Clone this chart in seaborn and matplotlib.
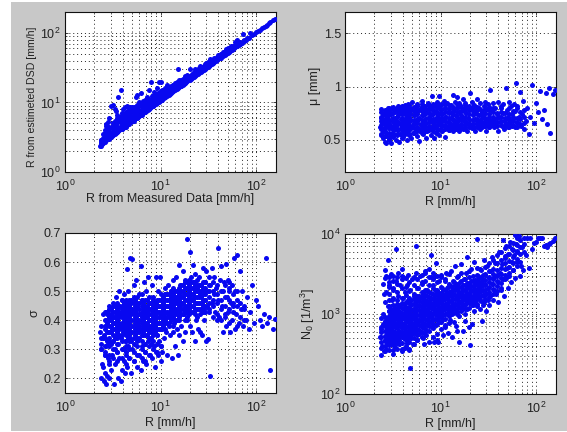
import matplotlib
matplotlib.use("Agg")
import matplotlib.pyplot as plt
from matplotlib.patches import Rectangle
from matplotlib.ticker import FixedLocator, FixedFormatter, NullFormatter
import seaborn as sns

# Rain rate shared by all panels [mm/h]
R = [
 2.3,2.35,2.4,2.4,2.45,2.5,2.5,2.55,2.6,2.6,
 2.6,2.65,2.7,2.7,2.75,2.8,2.8,2.85,2.9,2.9,
 2.5,2.55,2.6,2.65,2.7,2.75,2.8,2.85,2.9,3.0,
 3.0,3.05,3.1,3.1,3.15,3.2,3.2,3.25,3.3,3.3,
 3.35,3.4,3.4,3.45,3.5,3.5,3.55,3.6,3.6,3.65,
 3.7,3.7,3.75,3.8,3.8,3.85,3.9,3.9,3.95,4.0,
 4.0,4.05,4.1,4.15,4.2,4.2,4.25,4.3,4.35,4.4,
 4.4,4.45,4.5,4.55,4.6,4.65,4.7,4.75,4.8,4.8,
 4.85,4.9,4.95,5.0,5.0,5.1,5.2,5.3,5.4,5.5,
 5.5,5.6,5.7,5.7,5.8,5.9,6.0,6.0,6.1,6.2,
 6.2,6.3,6.4,6.5,6.5,6.6,6.7,6.8,6.9,7.0,
 7.0,7.1,7.2,7.3,7.4,7.5,7.6,7.7,7.8,8.0,
 8.0,8.1,8.2,8.3,8.4,8.5,8.6,8.7,8.8,8.9,
 9.0,9.0,9.1,9.2,9.3,9.4,9.5,9.6,9.7,9.8,
 9.9,10,10,10.1,10.2,10.3,10.4,10.5,10.7,11,
 11,11.2,11.4,11.5,11.7,11.9,12,12.2,12.4,12.5,
 12.7,12.9,13,13.2,13.4,13.5,13.7,13.9,14,14.2,
 14.4,14.5,14.7,14.9,15,15.2,15.4,15.5,15.7,16,
 16,16.3,16.6,17,17,17.4,17.7,18,18,18.4,
 18.7,19,19,19.5,20,20,20.5,21,21,21.5,
 22,22,22.5,23,23,23.5,24,24,24.5,25,
 25,25.5,26,26,26.5,27,27,27.5,28,28,
 28.5,29,29,30,30,30.5,31,31,32,32,
 33,33,34,34,35,36,36,37,38,39,
 40,40,41,42,43,44,45,45,46,47,
 48,48,49,50,51,52,53,54,55,56,
 57,58,59,60,61,62,63,65,67,69,
 70,72,74,77,80,83,86,90,95,100,
 105,110,115,120,125,130,135,140,150,158,
]

R_est = [
 2.35,2.4,2.5,2.9,2.55,2.6,3.1,2.7,2.8,3.3,
 4.0,2.9,2.85,3.5,3.0,3.0,4.3,3.2,3.1,3.8,
 3.5,3.0,3.6,4.6,4.9,3.4,5.2,3.6,6.0,3.2,
 9.0,3.4,3.3,4.4,9.2,3.5,5.0,3.8,8.0,3.5,
 5.5,3.6,4.6,7.5,3.8,6.5,4.2,12,3.9,5.5,
 4.0,6.2,4.5,15,4.1,5.6,4.2,7.0,4.9,4.3,
 8.0,5.2,4.4,6.2,4.5,8.5,5.0,4.6,7.0,4.8,
 6.0,8.8,4.9,5.6,7.5,5.0,5.4,8.6,5.2,6.6,
 7.6,5.3,6.2,5.4,8.6,5.5,7.0,5.7,8.0,5.9,
 12,6.0,6.8,13,6.2,8.8,6.4,10,7.5,6.6,
 13.5,9,6.9,7.0,10.5,8.0,7.2,11,7.4,7.5,
 9.5,7.6,12,7.8,8.7,15,8.1,10.5,8.4,20,
 8.6,12.5,8.8,10,9.0,14,9.2,11.5,9.4,9.6,
 12,9.7,10.5,16,10,13.5,10.2,20,11.5,10.6,
 14,10.8,12.5,20,11,15,11.2,13,11.5,11.9,
 15,12.1,14,12.4,18,12.8,16,13.1,14.8,13.4,
 17,13.8,15.5,14.2,18,14.5,16.5,14.9,19,15.2,
 17.5,15.5,19,15.9,30,16.3,18.5,16.6,21,17.1,
 20,17.4,19.5,18.1,22,18.5,21,19.2,24,19.6,
 23,20.2,25,20.8,21.3,30,22,22.3,26,23,
 23.4,27,24,24.4,30,25,25.5,29,26,26.5,
 31,27,27.5,33,28.1,28.6,32,29,29.6,34,
 30,30.7,36,31.7,37,32.2,32.8,38,33.8,37,
 34.8,42,35.8,40,37,37.9,44,39,40,43,
 42,48,43,44,50,46,47,53,48,49,
 50,58,51,52,60,54,55,65,57,58,
 59,60,75,62,70,64,78,67,69,71,
 72,95,76,79,85,85,100,92,97,102,
 107,112,117,122,127,132,137,142,152,160,
]

mu = [
 .62,.71,.55,.79,.66,.52,.74,.60,.48,.69,
 .76,.64,.47,.57,.72,.80,.68,.50,.61,.75,
 .58,.67,.73,.63,.54,.78,.70,.51,.65,.56,
 .74,.47,.62,.80,.57,.69,.53,.76,.65,.60,
 .71,.50,.78,.63,.55,.67,.82,.59,.73,.48,
 .66,.77,.56,.70,.61,.81,.52,.74,.64,.58,
 .79,.53,.68,.60,.75,.56,.83,.65,.71,.50,
 .62,.77,.58,.72,.84,.55,.67,.80,.60,.74,
 .69,.52,.78,.63,.86,.57,.73,.66,.81,.60,
 .75,.54,.68,.84,.61,.78,.49,.71,.58,.65,
 .80,.63,.87,.56,.73,.68,.82,.60,.76,.52,
 .66,.79,.58,.71,.85,.62,.75,.68,.81,.55,
 .73,.60,.91,.67,.78,.52,.64,.83,.70,.57,
 .76,.62,.68,.86,.59,.73,.81,.55,.91,.66,
 .70,.78,.60,.84,.64,.74,.58,.69,.87,.63,
 .80,.53,.72,.61,.85,.67,.76,.59,.82,.65,
 .71,.83,.62,.75,.92,.58,.69,.79,.64,.86,
 .73,.60,.90,.67,.81,.63,.76,.85,.58,.70,
 .83,.64,.72,.88,.60,.78,.68,.85,.62,.75,
 .66,.81,.58,.71,.94,.64,.79,.61,.86,.69,
 .75,.62,.83,.58,.70,.78,.66,.88,.63,.73,
 .80,.60,.68,.85,.65,.76,.62,.72,.82,.67,
 .74,.63,.86,.70,.58,.79,.66,.84,.62,.72,
 .97,.68,.77,.64,.85,.70,.62,.80,.66,.74,
 .86,.58,.72,.67,.80,.63,.75,.84,.60,.69,
 .99,.65,.78,.62,.72,.86,.67,.82,.63,.74,
 .70,.84,.62,.77,1.03,.66,.80,.72,.95,.63,
 .74,.87,.60,.68,.80,.56,.72,1.02,.66,.85,
 .76,.96,.70,.78,.94,.65,.99,.57,.93,.97,
]

sigma = [
 .36,.32,.30,.20,.25,.42,.34,.19,.28,.38,
 .22,.31,.40,.18,.43,.27,.36,.20,.33,.41,
 .24,.35,.29,.43,.38,.21,.32,.45,.26,.40,
 .44,.23,.37,.28,.46,.33,.41,.18,.30,.39,
 .25,.35,.43,.48,.29,.40,.20,.37,.32,.45,
 .50,.27,.42,.34,.19,.38,.47,.23,.44,.30,
 .36,.41,.26,.49,.33,.46,.22,.39,.29,.575,
 .43,.24,.37,.50,.31,.45,.27,.40,.615,.34,
 .47,.22,.38,.61,.30,.43,.26,.52,.36,.41,
 .54,.24,.45,.33,.39,.28,.49,.37,.42,.23,
 .585,.31,.47,.26,.40,.35,.53,.44,.29,.38,
 .50,.25,.42,.33,.55,.37,.46,.28,.40,.32,
 .44,.52,.27,.36,.48,.31,.41,.24,.38,.55,
 .46,.29,.35,.43,.50,.28,.39,.33,.45,.37,
 .55,.26,.42,.31,.47,.37,.29,.44,.34,.51,
 .40,.49,.36,.45,.28,.52,.42,.38,.47,.35,
 .44,.50,.27,.41,.36,.54,.46,.39,.48,.31,
 .43,.55,.37,.47,.28,.50,.40,.59,.35,.45,
 .52,.38,.46,.33,.57,.42,.49,.36,.54,.44,
 .40,.51,.68,.45,.635,.38,.55,.47,.36,.59,
 .43,.53,.48,.33,.56,.40,.46,.51,.37,.44,
 .55,.36,.49,.42,.52,.46,.35,.58,.44,.50,
 .40,.53,.47,.33,.57,.45,.335,.50,.43,.55,
 .21,.52,.46,.58,.41,.49,.55,.43,.51,.40,
 .47,.65,.41,.54,.585,.45,.50,.36,.53,.42,
 .595,.38,.48,.54,.43,.51,.36,.46,.52,.40,
 .45,.615,.37,.50,.42,.625,.47,.39,.57,.44,
 .50,.38,.45,.40,.48,.37,.43,.52,.39,.47,
 .45,.40,.38,.42,.615,.39,.41,.23,.37,.405,
]

N0 = [
 520,650,310,900,400,2400,750,1800,3500,480,
 1400,370,620,3000,830,4800,450,1100,2200,560,
 1000,340,2800,700,1900,470,1250,530,2500,880,
 600,3200,420,1500,760,320,2100,950,540,1200,
 390,2600,700,6500,1050,480,1700,850,3300,600,
 1300,420,2300,780,550,1000,340,3600,660,1600,
 900,2900,500,1200,700,380,1900,620,1050,2300,
 440,820,1500,3100,570,1100,360,690,2000,210,
 950,500,1350,2700,740,420,1700,600,1100,3300,
 7000,650,1250,480,2100,850,1550,560,3000,1000,
 730,2500,1150,500,1800,900,420,1400,3400,640,
 1050,540,2000,780,1350,3700,450,1600,950,2900,
 5500,680,1250,2300,850,450,1600,1050,3000,720,
 1400,4300,560,1900,950,450,1150,2600,800,1650,
 1000,3100,650,1450,2100,830,1200,540,1750,2700,
 1300,720,3300,1000,1600,2200,580,1150,1900,850,
 1450,3400,1000,520,1800,1200,2500,800,1350,4000,
 2100,700,1550,1050,3000,1250,450,1800,950,2500,
 1400,4200,1150,2000,620,1650,2700,1000,1300,3300,
 1800,1150,5100,2300,410,1500,3600,1300,750,2000,
 1600,4500,1100,2600,1400,1900,8700,1250,3000,1700,
 2200,1150,3600,1500,2000,820,2700,1300,4800,1700,
 1400,2400,3200,1800,1100,4000,2100,1500,2800,1300,
 1700,3400,2400,5200,1500,2900,2000,4300,1800,3100,
 2500,1400,6000,3300,2000,4200,2700,8500,1700,5000,
 2800,7000,3800,2100,5600,3000,8000,2500,4500,6500,
 3500,5500,9800,2800,7500,4500,6200,9500,3000,4000,
 6800,3500,9000,5500,8800,3800,9000,6500,7800,8000,
 8900,9000,8800,7000,7200,6800,7500,7800,8200,8800,
]

# Dense body of each cloud: rain-rate columns and the values read in each column
R_dense = [2.4,2.6,2.9,3.2,3.5,3.9,4.3,4.7,5.2,5.7,6.3,6.9,7.6,8.4,9.2,10.1,11.1,12.2,13.5,
           14.8,16.3,18,19.8,21.7,23.9,26.3,29,31.8,35,38.5,42.4,46.6,51.3,56.4,62,68,75]

R_est_dense = [
 [2.5,2.7,2.9],[2.7,3.0,3.3,3.6],[3.0,3.3,3.7,4.1,4.5],[3.35,3.7,4.1,4.5,5.0],
 [3.7,4.1,4.5,5.0,5.5,6.0],[4.1,4.5,5.0,5.5,6.0,6.6],[4.5,5.0,5.5,6.0,6.6,7.2],
 [4.95,5.4,6.0,6.6,7.2,7.9,8.6],[5.5,6.0,6.6,7.2,7.9,8.6],[6.0,6.6,7.2,7.9,8.6,9.3],
 [6.65,7.2,7.9,8.6,9.4],[7.3,7.9,8.6,9.4,10.3],[8.0,8.7,9.5,10.4,11.3],[8.9,9.6,10.4,11.3,12.3],
 [9.8,10.5,11.4,12.4,13.4],[10.8,11.6,12.5,13.5,14.6],[11.9,12.7,13.6,14.7,16],[13,13.9,15,16.2],
 [14.4,15.4,16.5,17.8],[15.8,16.8,18,19.4],[17.4,18.5,19.8,21],[19.1,20.4,21.8,23.2],
 [21,22.4,23.8],[23,24.5,26],[25.3,26.8,28.5],[27.8,29.5,31],[30.5,32.3,34.2],[33.5,35.4,37.5],
 [36.7,38.8,41],[40.3,42.5,45],[44.2,46.8,49.5],[48.5,51,54],[53.3,56,59.5],[58.5,61.5,65],
 [64.2,67.5,71],[70,74],[77,80],
]

mu_dense = [
 [.56,.60,.64,.68,.72,.76],[.54,.58,.62,.66,.70,.74,.78],[.53,.57,.61,.65,.69,.73,.77,.80],
 [.55,.59,.63,.67,.71,.75,.79,.81],[.56,.60,.64,.68,.72,.76,.80],[.55,.59,.63,.67,.71,.75,.79,.82],
 [.57,.61,.65,.69,.73,.77,.81],[.56,.60,.64,.68,.72,.76,.80,.83],[.57,.61,.65,.69,.73,.77,.81],
 [.58,.62,.66,.70,.74,.78,.82],[.57,.61,.65,.69,.73,.77,.81,.84],[.58,.62,.66,.70,.74,.78,.82],
 [.59,.63,.67,.71,.75,.79,.83],[.58,.62,.66,.70,.74,.78,.82,.84],[.60,.64,.68,.72,.76,.80,.84],
 [.59,.63,.67,.71,.75,.79,.83],[.60,.64,.68,.72,.76,.80,.84],[.59,.63,.67,.71,.75,.79,.83],
 [.61,.65,.69,.73,.77,.81],[.60,.64,.68,.72,.76,.80,.84],[.61,.65,.69,.73,.77,.81],
 [.60,.64,.68,.72,.76,.80,.83],[.62,.66,.70,.74,.78,.82],[.61,.65,.69,.73,.77,.81],
 [.62,.66,.70,.74,.78,.81],[.62,.66,.70,.74,.78],[.63,.67,.71,.75,.79],[.62,.66,.70,.74,.78,.81],
 [.64,.68,.72,.76,.80],[.63,.67,.71,.75],[.64,.68,.72,.76,.82],[.63,.67,.71,.75],[.62,.66,.70,.74,.80],
 [.64,.68,.72,.77],[.62,.67,.71,.82],[.65,.70,.76],[.66,.72,.78],
]

sigma_dense = [
 [.30,.34,.38],[.28,.31,.34,.37,.40,.43],[.25,.28,.31,.34,.36,.38,.40,.42,.44],
 [.27,.30,.33,.35,.37,.39,.41,.43,.45],[.26,.29,.32,.34,.36,.38,.40,.42,.44,.46],
 [.27,.30,.33,.35,.37,.39,.41,.43,.45,.47],[.25,.28,.31,.33,.35,.37,.39,.41,.43,.45,.47],
 [.27,.30,.33,.35,.37,.39,.41,.43,.45,.47],[.26,.29,.32,.34,.36,.38,.40,.42,.44,.46,.48],
 [.28,.31,.34,.36,.38,.40,.42,.44,.46,.48],[.27,.30,.33,.35,.37,.39,.41,.43,.45,.47,.49],
 [.26,.29,.32,.35,.37,.39,.41,.43,.45,.47],[.28,.31,.34,.36,.38,.40,.42,.44,.46,.48],
 [.30,.33,.35,.37,.39,.41,.43,.45,.47],[.29,.32,.35,.37,.39,.41,.43,.45,.47],
 [.31,.37,.39,.41,.43,.45,.47,.49],[.37,.39,.41,.43,.45,.47,.49],[.39,.41,.43,.45,.47,.49],
 [.38,.41,.43,.45,.47,.49,.51],[.40,.42,.44,.46,.48,.50],[.42,.44,.46,.48,.50,.52],
 [.40,.43,.45,.47,.49,.51,.53],[.42,.44,.46,.48,.50,.52,.54],[.43,.45,.47,.49,.51,.53],
 [.41,.44,.46,.48,.50,.52,.54],[.44,.46,.48,.50,.52],[.43,.45,.47,.49,.51,.53],
 [.44,.46,.48,.50,.52],[.45,.47,.50,.53],[.42,.46,.49,.52],[.40,.44,.47,.50],[.41,.45,.48,.52],
 [.39,.44,.47,.50,.53],[.43,.46,.49],[.38,.45,.50],[.41,.46],[.40,.44],
]

N0_dense = [
 [380,450,520,600,690],[340,400,460,530,610,700,810,930],
 [350,410,470,540,620,710,820,940,1080,1250,1500,1800,2300,2900],
 [350,410,470,540,620,710,820,940,1080,1300,1600,2000,2600,3000],
 [370,430,500,570,660,760,870,1000,1150,1320,1500,1900,2400,2900],
 [360,440,510,590,680,780,900,1030,1190,1370,1600,2100,2700,3000],
 [400,470,540,620,710,820,940,1080,1240,1430,1750,2200,2800],
 [350,450,520,600,690,790,910,1050,1210,1390,1600,1950,2500],
 [420,500,580,670,770,890,1020,1170,1350,1550,1800,2300,2900],
 [470,550,640,740,850,980,1130,1300,1500,1700,2100,2700],
 [520,600,690,800,920,1060,1220,1400,1620,1900,2400,3100],
 [560,650,750,860,990,1140,1310,1510,1740,2000,2600,3300],
 [610,700,810,930,1070,1230,1420,1630,1880,2300,2900],
 [520,660,760,870,1000,1150,1330,1530,1760,2100,2700,3300],
 [480,740,850,980,1130,1300,1500,1720,1980,2500,3000],
 [800,920,1060,1220,1400,1610,1850,2200,2900],
 [680,870,1000,1150,1320,1520,1750,2000,2600],
 [780,950,1090,1250,1440,1660,1900,2400,3200],
 [1020,1170,1340,1540,1770,2040,2600],
 [620,1000,1150,1320,1520,1750,2010,2350,2900],
 [1080,1240,1430,1640,1890,2170,2600,3300],
 [820,1150,1320,1520,1750,2010,2310,2700],
 [680,1200,1380,1590,1830,2100,2420,2900,3400],
 [1280,1470,1690,1950,2240,2580,3000],
 [1320,1520,1750,2010,2310,2660,3100,3800],
 [1450,1670,1920,2210,2540,2920,3500],
 [1530,1760,2020,2330,2680,3100,3900],
 [1650,1900,2180,2510,2890,3400,4300],
 [1800,2070,2380,2740,3150,3700,4700],
 [1950,2240,2580,2970,3500,4300,5400],
 [2100,2420,2780,3200,3800,4700,6000],
 [2700,3100,3600,4300,5300,6700],
 [3300,3900,4600,5600,7000],
 [3500,4300,5200,6400,7800],
 [4000,4900,5900,7200,8900],
 [4500,5600,6900,8400],
 [6000,7500],
]

# Further columns between those above, for the two widest clouds
R_between = [2.75,3.05,3.35,3.7,4.1,4.5,4.95,5.45,6,6.6,7.25,8,8.8,9.6,10.6,11.6,12.8,14.1,15.5,
             17.1,18.9,20.7,22.8,25,27.6]

sigma_between = [
 [.33,.36,.39,.42],[.32,.36,.38,.40,.42,.44],[.34,.37,.39,.41,.43,.45],[.35,.37,.39,.41,.43,.45],
 [.30,.36,.38,.40,.42,.44,.46],[.34,.36,.38,.40,.42,.44,.46],[.33,.36,.38,.40,.42,.44,.46],
 [.35,.37,.39,.41,.43,.45,.47],[.34,.36,.38,.40,.42,.44,.46],[.36,.38,.40,.42,.44,.46],
 [.35,.37,.39,.41,.43,.45,.47],[.34,.36,.38,.40,.42,.44,.46],[.36,.38,.40,.42,.44,.46],
 [.37,.39,.41,.43,.45,.47],[.38,.40,.42,.44,.46,.48],[.39,.41,.43,.45,.47,.49],
 [.40,.42,.44,.46,.48,.50],[.40,.42,.44,.46,.48,.50],[.41,.43,.45,.47,.49,.51],
 [.42,.44,.46,.48,.50,.52],[.41,.43,.45,.47,.49,.51,.53],[.43,.45,.47,.49,.51,.53],
 [.42,.44,.46,.48,.50,.52],[.44,.46,.48,.50,.52],[.43,.45,.47,.49,.51,.53],
]

N0_between = [
 [430,500,570,660,760,880],[430,500,570,650,750,860,1000,1150],
 [440,510,590,680,780,900,1040,1200],[470,540,620,720,830,950,1100,1260],
 [500,580,660,760,880,1010,1160,1340],[520,600,690,790,910,1050,1200,1400],
 [550,640,730,840,970,1110,1280,1480],[590,680,780,900,1030,1190,1370,1570],
 [640,730,840,970,1110,1280,1470,1700],[680,780,900,1030,1190,1370,1570,1810],
 [730,840,970,1110,1280,1470,1690,1950],[790,910,1040,1200,1380,1590,1830],
 [860,990,1140,1310,1500,1730,1990],[910,1050,1210,1390,1600,1840],
 [980,1130,1300,1490,1720,1980],[1040,1200,1380,1590,1830,2100],
 [1100,1270,1460,1680,1930,2220],[1150,1320,1520,1750,2010,2310],
 [1240,1430,1640,1890,2170],[1300,1500,1720,1980,2280],[1400,1610,1850,2130,2450],
 [1460,1680,1930,2220,2550],[1540,1770,2040,2340,2690],[1620,1860,2140,2460,2830],
 [1750,2010,2310,2660,3060],
]

sns.set_theme(style="white")
plt.rcParams.update({
    "font.family": ["Liberation Sans", "DejaVu Sans"],
    "mathtext.fontset": "custom",
    "mathtext.rm": "Liberation Sans",
    "mathtext.default": "regular",
    "font.size": 9,
    "axes.linewidth": 0.8,
    "text.color": "#222222",
})

W, H = 567, 432
fig = plt.figure(figsize=(W / 100, H / 100), dpi=100, facecolor="white")
fig.patches.append(Rectangle((11 / W, 0.003), 1 - 11 / W, 1 - 2 / H - 0.003,
                             transform=fig.transFigure, facecolor="#c8c8c8", edgecolor="none", zorder=-1))


def panel(box, y, dense, between, xlabel, ylabel, ylim, logy=True, yticks=None, ylabels=None,
          xpad=1, ysize=9, ypos=0.5):
    x0, y0, x1, y1 = box
    ax = fig.add_axes([x0 / W, 1 - y1 / H, (x1 - x0) / W, (y1 - y0) / H], facecolor="white")
    xs = list(R)
    ys = list(y)
    for r, col in list(zip(R_dense, dense)) + list(zip(R_between, between)):
        xs += [r] * len(col)
        ys += col
    sns.scatterplot(x=xs, y=ys, ax=ax, color="#0808f0", marker="o", s=13, linewidth=0, zorder=3)
    ax.set_xscale("log")
    ax.set_xlim(1, 160)
    if logy:
        ax.set_yscale("log")
    ax.set_ylim(*ylim)
    if yticks is not None:
        ax.yaxis.set_major_locator(FixedLocator(yticks))
        ax.yaxis.set_major_formatter(FixedFormatter(ylabels))
    ax.xaxis.set_minor_formatter(NullFormatter())
    ax.yaxis.set_minor_formatter(NullFormatter())
    ax.grid(True, which="both", axis="x", color="#222222", linestyle=(0, (1, 3)), linewidth=0.7, zorder=1)
    ax.grid(True, which="major" if not logy else "both", axis="y", color="#222222",
            linestyle=(0, (1, 3)), linewidth=0.7, zorder=1)
    ax.set_axisbelow(True)
    ax.tick_params(which="major", direction="in", length=2.5, width=0.6, top=True, right=True,
                   left=True, bottom=True, labelsize=9, labelcolor="#222222")
    ax.tick_params(axis="x", which="major", pad=5)
    ax.tick_params(axis="y", which="major", pad=3)
    ax.tick_params(which="minor", direction="in", length=1.2, width=0.5, top=True, right=True,
                   left=True, bottom=True)
    for s in ax.spines.values():
        s.set_color("#111111")
        s.set_visible(True)
    ax.set_xlabel(xlabel, fontsize=9, labelpad=xpad, color="#222222")
    ax.set_ylabel(ylabel, fontsize=ysize, labelpad=2, color="#222222", y=ypos)
    return ax


panel((65, 12, 276, 172), R_est, R_est_dense, [], "R from Measured Data [mm/h]",
      "R from estimeted DSD [mm/h]", (1, 200), xpad=-1, ysize=7.6, ypos=0.47)
panel((345, 12, 556, 172), mu, mu_dense, [], "R [mm/h]", "μ [mm]", (0.2, 1.7), logy=False,
      yticks=[0.5, 1, 1.5], ylabels=["0.5", "1", "1.5"], ypos=0.54)
panel((65, 233, 276, 393), sigma, sigma_dense, sigma_between, "R [mm/h]", "σ", (0.15, 0.7), logy=False,
      yticks=[0.2, 0.3, 0.4, 0.5, 0.6, 0.7], ylabels=["0.2", "0.3", "0.4", "0.5", "0.6", "0.7"])
panel((345, 234, 556, 394), N0, N0_dense, N0_between, "R [mm/h]", r"N$_0$ [1/m$^3$]", (100, 10000))

fig.savefig("out.png", dpi=100, facecolor=fig.get_facecolor())
